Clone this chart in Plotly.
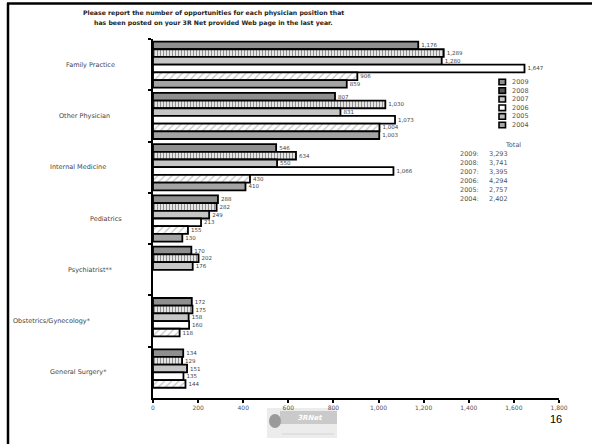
import plotly.graph_objects as go

# Physician positions posted, by year
categories = ["Family Practice", "Other Physician", "Internal Medicine", "Pediatrics",
              "Psychiatrist**", "Obstetrics/Gynecology*", "General Surgery*"]
years = ["2009", "2008", "2007", "2006", "2005", "2004"]
values = {
    "2009": [1176, 807, 546, 288, 170, 172, 134],
    "2008": [1289, 1030, 634, 282, 202, 175, 129],
    "2007": [1280, 831, 550, 249, 176, 158, 151],
    "2006": [1647, 1073, 1066, 213, None, 160, 135],
    "2005": [906, 1004, 430, 155, None, 118, 144],
    "2004": [859, 1003, 410, 130, None, None, None],
}
totals = ["3,293", "3,741", "3,395", "4,294", "2,757", "2,402"]
x_ticks = [0, 200, 400, 600, 800, 1000, 1200, 1400, 1600, 1800]

title_lines = ["Please report the number of opportunities for each physician position that",
               "has been posted on your 3R Net provided Web page in the last year."]

FONT = "Verdana, DejaVu Sans, sans-serif"
W, H = 592, 444
L, R, T, B = 153, 33, 39, 46
PW, PH = W - L - R, H - T - B


def px(x):
    return (x - L) / PW


def py(y):
    return (H - B - y) / PH


styles = {
    "2009": dict(color="#8f8f8f"),
    "2008": dict(color="white", pattern=dict(shape="|", fgcolor="#222222", bgcolor="white",
                                             size=3, solidity=0.5)),
    "2007": dict(color="#c6c6c6"),
    "2006": dict(color="white"),
    "2005": dict(color="white", pattern=dict(shape="/", fgcolor="#8a8a8a", bgcolor="white",
                                             size=5, solidity=0.25)),
    "2004": dict(color="#a4a4a4"),
}
legend_fill = {"2009": "#8f8f8f", "2008": "#555555", "2007": "#c6c6c6",
               "2006": "#ffffff", "2005": "#bbbbbb", "2004": "#a4a4a4"}

fig = go.Figure()
for yr in years:
    vals = values[yr]
    fig.add_trace(go.Bar(
        name=yr, y=categories, x=vals, orientation="h",
        marker=dict(line=dict(color="black", width=1.8), **styles[yr]),
        text=[f"{v:,}" if v is not None else "" for v in vals],
        textposition="outside", constraintext="none", cliponaxis=False,
        textfont=dict(family=FONT, size=5.5, color="#444444"),
        showlegend=False,
    ))

# category labels at their own offsets in the left margin
label_centers = [90, 84, 78, 106, 90, 52, 78]
annotations = []
for cat, cx in zip(categories, label_centers):
    annotations.append(dict(x=px(cx), xref="paper", y=cat, yref="y", text=cat,
                            showarrow=False, xanchor="center",
                            font=dict(family=FONT, size=6.5, color="#444444")))

# title
for i, line in enumerate(title_lines):
    annotations.append(dict(x=px(213), y=py(13 + 10.5 * i), xref="paper", yref="paper",
                            text=f"<b>{line}</b>", showarrow=False, xanchor="center",
                            yanchor="middle", font=dict(family=FONT, size=6.2, color="#222222")))

# legend and totals drawn in the plot area
shapes = []
for i, yr in enumerate(years):
    yc = 82 + 8.6 * i
    shapes.append(dict(type="rect", xref="paper", yref="paper",
                       x0=px(499), x1=px(505.5), y0=py(yc - 2.8), y1=py(yc + 2.8),
                       line=dict(color="black", width=1.6), fillcolor=legend_fill[yr]))
    annotations.append(dict(x=px(510), y=py(yc), xref="paper", yref="paper", text=yr,
                            showarrow=False, xanchor="left", yanchor="middle",
                            font=dict(family=FONT, size=6.5, color="#555555")))

annotations.append(dict(x=px(513), y=py(145), xref="paper", yref="paper", text="Total",
                        showarrow=False, xanchor="center", yanchor="middle",
                        font=dict(family=FONT, size=6.5, color="#555555")))
for i, (yr, tot) in enumerate(zip(years, totals)):
    yc = 154.3 + 9 * i
    annotations.append(dict(x=px(458), y=py(yc), xref="paper", yref="paper", text=f"{yr}:",
                            showarrow=False, xanchor="left", yanchor="middle",
                            font=dict(family=FONT, size=6.5, color="#555555")))
    annotations.append(dict(x=px(486.5), y=py(yc), xref="paper", yref="paper", text=tot,
                            showarrow=False, xanchor="left", yanchor="middle",
                            font=dict(family=FONT, size=6.5, color="#555555")))

# page number
annotations.append(dict(x=px(556), y=py(419), xref="paper", yref="paper", text="16",
                        showarrow=False, xanchor="center", yanchor="middle",
                        font=dict(family="Liberation Sans, Arial, sans-serif", size=11,
                                  color="black")))

# slide frame
shapes.append(dict(type="line", xref="paper", yref="paper", x0=px(7), x1=px(600),
                   y0=py(3.5), y1=py(3.5), line=dict(color="black", width=2.5)))
shapes.append(dict(type="line", xref="paper", yref="paper", x0=px(8), x1=px(8),
                   y0=py(3), y1=py(450), line=dict(color="black", width=2.5)))

# 3RNet badge under the axis (kept beneath the tick labels)
badge = [
    dict(type="rect", x0=267, x1=337, y0=408, y1=438, line=dict(width=0), fillcolor="#ececec"),
    dict(type="rect", x0=280, x1=337, y0=411, y1=424, line=dict(width=0), fillcolor="#cacaca"),
    dict(type="circle", x0=269, x1=281, y0=414, y1=428, line=dict(width=0), fillcolor="#9a9a9a"),
    dict(type="line", x0=282, x1=334, y0=434, y1=434, line=dict(color="#d4d4d4", width=1)),
]
for s in badge:
    s.update(xref="paper", yref="paper", layer="below",
             x0=px(s["x0"]), x1=px(s["x1"]), y0=py(s["y0"]), y1=py(s["y1"]))
    shapes.append(s)
annotations.append(dict(x=px(310), y=py(417.5), xref="paper", yref="paper",
                        text="<b><i>3RNet</i></b>", showarrow=False, xanchor="center",
                        yanchor="middle", font=dict(family=FONT, size=7, color="white")))

fig.update_layout(
    width=W, height=H,
    margin=dict(l=L, r=R, t=T, b=B, pad=0),
    paper_bgcolor="white", plot_bgcolor="white",
    barmode="group", bargap=0.1, bargroupgap=0,
    showlegend=False,
    annotations=annotations, shapes=shapes,
    xaxis=dict(range=[0, 1800], tickvals=x_ticks, tickformat=",d",
               showgrid=False, zeroline=False, showline=True, linecolor="black",
               linewidth=2, ticks="outside", ticklen=3, tickwidth=1.5, tickcolor="black",
               tickfont=dict(family=FONT, size=6, color="#555555")),
    yaxis=dict(categoryorder="array", categoryarray=categories, autorange="reversed",
               showgrid=False, zeroline=False, showline=True, linecolor="black",
               linewidth=2, ticks="outside", ticklen=3, tickwidth=1.5, tickcolor="black",
               tickson="boundaries", showticklabels=False),
)

fig.write_html("out.html")
